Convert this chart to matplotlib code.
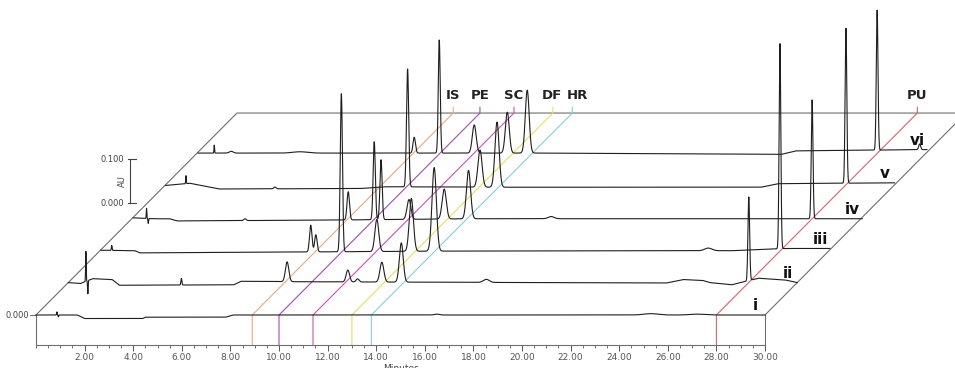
import numpy as np
import matplotlib
matplotlib.use('Agg')
from matplotlib import pyplot as plt

# guide lines for the analytes (retention time in min)
guide_names = ['IS', 'PE', 'SC', 'DF', 'HR', 'PU']
guide_times = [8.9, 10.0, 11.4, 13.0, 13.8, 28.0]
guide_colors = ['#f2a67a', '#a24bb8', '#d452ad', '#e6e05a', '#86cde4', '#e06262']
label_nudge = [0.0, 0.0, 0.0, -0.05, 0.2, 0.0]   # label shift in min, so DF/HR don't touch

trace_labels = ['i', 'ii', 'iii', 'iv', 'v', 'vi']

# baseline of each run: (minutes, AU)
base_i = [(0, 0), (1.7, 0), (2.0, -0.008), (4.4, -0.008), (4.5, -0.005), (7.8, -0.005), (8.1, 0.0), (30, 0.0)]
base_ii = [(0, 0), (0.5, -0.002), (1.0, 0.009), (1.8, 0.007), (2.1, -0.006), (6.8, -0.005), (7.1, 0.003),
           (9.5, 0.002), (24.6, -0.001), (25.3, 0.007), (26.1, 0.005), (26.4, 0.0), (27.3, -0.005),
           (27.8, 0.002), (28.4, 0.01), (29.5, 0.006), (30, 0.0)]
base_iii = [(0, 0), (1.4, -0.001), (1.6, -0.006), (8.3, -0.004), (14, -0.002), (26, -0.001), (28.2, 0.004), (30, 0.004)]
base_iv = [(0, 0), (0.8, -0.002), (1.5, -0.002), (1.8, -0.007), (8.3, -0.005), (14, -0.002), (30, -0.002)]
base_v = [(0, 0), (1.0, 0.005), (2.2, -0.008), (8.0, -0.007), (9.0, -0.003), (14, -0.004), (24.5, -0.004),
          (25.2, 0.004), (30, 0.006)]
base_vi = [(0, 0), (14, 0.0), (24.0, -0.003), (24.6, 0.005), (30, 0.008)]

# peaks of each run: (retention time, height AU, sigma min)
peaks_i = [(0.86, 0.007, 0.012), (0.92, -0.004, 0.012), (16.5, 0.002, 0.1), (25.3, 0.003, 0.3), (27.2, 0.002, 0.3)]
peaks_ii = [(0.72, 0.068, 0.012), (0.80, -0.030, 0.012), (4.65, 0.015, 0.02), (9.0, 0.045, 0.07),
            (11.5, 0.027, 0.07), (11.9, 0.007, 0.06), (12.9, 0.045, 0.08), (13.7, 0.089, 0.08),
            (17.2, 0.007, 0.12), (28.0, 0.19, 0.035)]
peaks_iii = [(0.45, 0.011, 0.015), (8.64, 0.061, 0.05), (8.85, 0.039, 0.05), (9.9, 0.359, 0.045),
             (11.36, 0.073, 0.08), (12.78, 0.12, 0.085), (13.72, 0.19, 0.09), (25.0, 0.006, 0.15),
             (27.95, 0.466, 0.035)]
peaks_iv = [(0.55, 0.023, 0.012), (0.62, -0.011, 0.012), (4.6, 0.004, 0.05), (8.85, 0.064, 0.05),
            (9.92, 0.177, 0.045), (10.2, 0.136, 0.045), (11.35, 0.045, 0.08), (12.8, 0.068, 0.085),
            (13.8, 0.11, 0.085), (17.2, 0.005, 0.12), (27.94, 0.27, 0.035)]
peaks_v = [(0.84, 0.018, 0.012), (4.5, 0.004, 0.05), (9.96, 0.268, 0.045), (12.94, 0.084, 0.085),
           (13.64, 0.148, 0.085), (28.0, 0.352, 0.035)]
peaks_vi = [(0.67, 0.018, 0.012), (1.37, 0.004, 0.08), (4.2, 0.003, 0.3), (8.9, 0.036, 0.05),
            (9.93, 0.257, 0.04), (11.37, 0.064, 0.08), (12.73, 0.093, 0.08), (13.55, 0.143, 0.08),
            (27.95, 0.318, 0.035), (29.7, 0.013, 0.04)]

bases = [base_i, base_ii, base_iii, base_iv, base_v, base_vi]
peaks = [peaks_i, peaks_ii, peaks_iii, peaks_iv, peaks_v, peaks_vi]

# pseudo-3D offsets
step_x, step_y = 1.333, 0.0736     # shift between runs
back_x, back_y = 8.27, 0.459       # back wall


def build_trace(t, base, pk):
    bt = [p[0] for p in base]
    by = [p[1] for p in base]
    y = np.interp(t, bt, by)
    for c, h, w in pk:
        y = y + h * np.exp(-0.5 * ((t - c) / w) ** 2)
    return y


fig = plt.figure(figsize=(9.55, 3.68), dpi=100)
ax = fig.add_axes([36 / 955, 23 / 368, 729 / 955, 345 / 368])
ax.set_xlim(0, 30)
ax.set_ylim(-30 / 440, 315 / 440)

frame = '#6e6e6e'
t = np.linspace(0, 30, 6001)

# frame: front box sides, diagonals and back wall
ax.plot([0, 0], [-30 / 440, 0], color=frame, lw=0.8, clip_on=False)
ax.plot([30, 30], [-30 / 440, 0], color=frame, lw=0.8, clip_on=False)
ax.plot([-0.25, 0], [0, 0], color=frame, lw=0.8, clip_on=False)
ax.plot([0, back_x, 30 + back_x + 5], [0, back_y, back_y], color=frame, lw=0.8, clip_on=False)
ax.plot([30, 30 + back_x], [0, back_y], color=frame, lw=0.8, clip_on=False)

# coloured guides running from the time axis to the back wall
for name, tc, col, dn in zip(guide_names, guide_times, guide_colors, label_nudge):
    ax.plot([tc, tc, tc + back_x, tc + back_x], [-30 / 440, 0, back_y, back_y + 0.013],
            color=col, lw=0.8, clip_on=False)
    ax.text(tc + back_x + dn, back_y + 0.026, name, ha='center', va='bottom', fontsize=9.5,
            fontweight='bold', color='#222222', clip_on=False)

# runs, back to front
for k in range(len(bases) - 1, -1, -1):
    y = build_trace(t, bases[k], peaks[k])
    ax.plot(t + k * step_x, y + k * step_y, color='#1e1e1e', lw=0.8, clip_on=False)
    ax.text(29.6 + k * step_x, bases[k][-1][1] + k * step_y + 0.004, trace_labels[k],
            ha='center', va='bottom', fontsize=11, fontweight='bold', color='#111111')

# AU scale bar
sx = 3.87
ax.plot([sx, sx], [0.2545, 0.3545], color='#444444', lw=0.8, clip_on=False)
for yv, lab in [(0.2545, '0.000'), (0.3545, '0.100')]:
    ax.plot([sx - 0.1, sx + 0.25], [yv, yv], color='#444444', lw=0.8, clip_on=False)
    ax.text(sx - 0.25, yv, lab, ha='right', va='center', fontsize=6, color='#444444')
ax.text(sx - 0.33, 0.3045, 'AU', rotation=90, ha='center', va='center', fontsize=6, color='#444444')
ax.text(-0.3, 0, '0.000', ha='right', va='center', fontsize=6, color='#444444')

# time axis
for s in ['top', 'left', 'right']:
    ax.spines[s].set_visible(False)
ax.spines['bottom'].set_color(frame)
ax.spines['bottom'].set_linewidth(0.8)
major = np.arange(2, 31, 2)
ax.set_xticks(major)
ax.set_xticklabels([f'{v:.2f}' for v in major])
ax.set_xticks(np.arange(0, 30.01, 0.5), minor=True)
ax.tick_params(axis='x', which='major', length=4, width=0.7, colors='#555555', labelsize=6.5, pad=2)
ax.tick_params(axis='x', which='minor', length=2.5, width=0.6, colors='#555555')
ax.set_yticks([])
ax.set_xlabel('Minutes', fontsize=6.5, color='#444444', labelpad=1)
ax.patch.set_visible(False)

fig.savefig('out.png', dpi=100)
